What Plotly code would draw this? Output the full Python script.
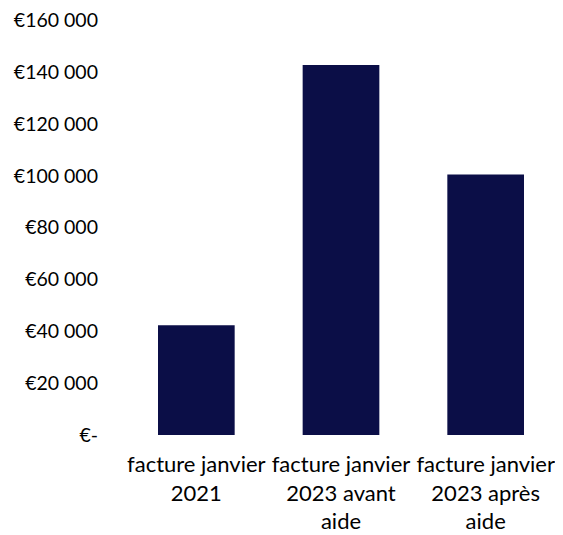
import plotly.graph_objects as go

categories = ["facture janvier<br>2021", "facture janvier<br>2023 avant<br>aide", "facture janvier<br>2023 après<br>aide"]
values = [42300, 142700, 100500]
tick_vals = [0, 20000, 40000, 60000, 80000, 100000, 120000, 140000, 160000]
tick_text = ["€-", "€20 000", "€40 000", "€60 000", "€80 000", "€100 000", "€120 000", "€140 000", "€160 000"]

fig = go.Figure(go.Bar(x=categories, y=values, marker=dict(color="#0b0e47", line=dict(width=0)), width=0.53))

fig.update_layout(
    width=563, height=535,
    margin=dict(l=116, r=13, t=7, b=108),
    paper_bgcolor="white", plot_bgcolor="white",
    font=dict(family="Lato, Open Sans, sans-serif", size=20, color="#000000"),
    showlegend=False,
)
fig.update_yaxes(range=[0, 162000], tickvals=tick_vals, ticktext=tick_text,
                 showgrid=False, zeroline=False, showline=False, ticks="",
                 ticklabelstandoff=25, tickfont=dict(size=19.5), automargin=False)
fig.update_xaxes(showgrid=False, showline=False, ticks="", tickangle=0,
                 ticklabelstandoff=14, tickfont=dict(size=22), automargin=False)

fig.write_html("out.html")
